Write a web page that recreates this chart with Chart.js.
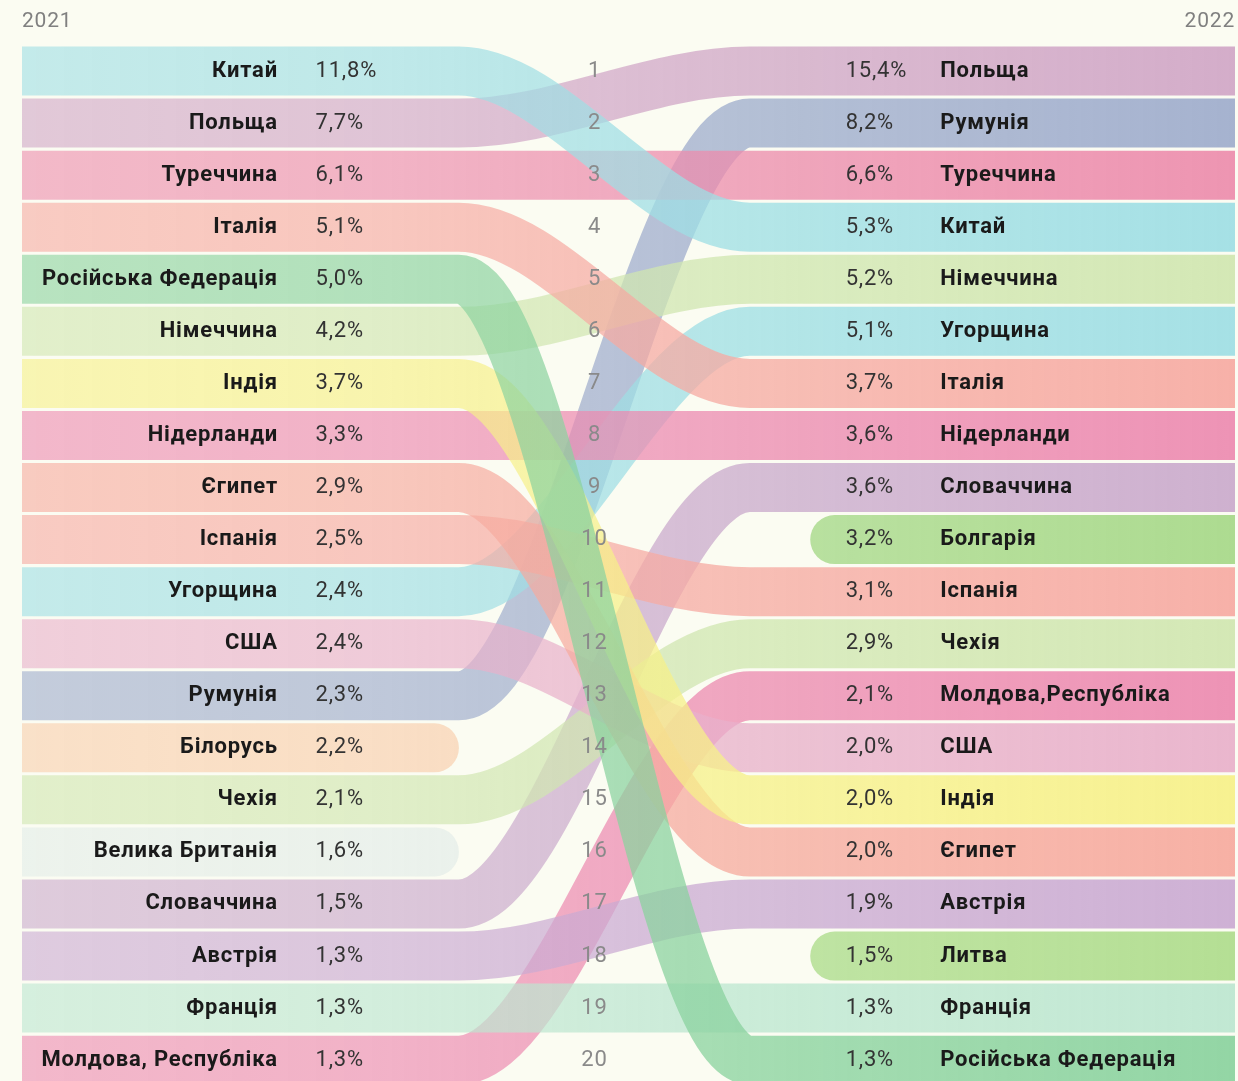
<!DOCTYPE html>
<html>
<head>
<meta charset="utf-8">
<script src="https://cdn.jsdelivr.net/npm/chart.js@4.4.0/dist/chart.umd.min.js"></script>
<style>
  html, body { margin: 0; padding: 0; background: #fbfcf2; }
  canvas { display: block; }
</style>
</head>
<body>
<canvas id="chart" width="1238" height="1081"></canvas>
<script>
const yearLabels = ['2021', '2022'];

const countries2021 = ['Китай', 'Польща', 'Туреччина', 'Італія', 'Російська Федерація', 'Німеччина', 'Індія',
  'Нідерланди', 'Єгипет', 'Іспанія', 'Угорщина', 'США', 'Румунія', 'Білорусь', 'Чехія', 'Велика Британія',
  'Словаччина', 'Австрія', 'Франція', 'Молдова, Республіка'];
const shares2021 = [11.8, 7.7, 6.1, 5.1, 5.0, 4.2, 3.7, 3.3, 2.9, 2.5, 2.4, 2.4, 2.3, 2.2, 2.1, 1.6, 1.5, 1.3, 1.3, 1.3];

const countries2022 = ['Польща', 'Румунія', 'Туреччина', 'Китай', 'Німеччина', 'Угорщина', 'Італія',
  'Нідерланди', 'Словаччина', 'Болгарія', 'Іспанія', 'Чехія', 'Молдова,Республіка', 'США', 'Індія', 'Єгипет',
  'Австрія', 'Литва', 'Франція', 'Російська Федерація'];
const shares2022 = [15.4, 8.2, 6.6, 5.3, 5.2, 5.1, 3.7, 3.6, 3.6, 3.2, 3.1, 2.9, 2.1, 2.0, 2.0, 2.0, 1.9, 1.5, 1.3, 1.3];

// band colours (rgb)
const bandColors = {
  'Китай': [158, 222, 228],
  'Польща': [208, 166, 198],
  'Туреччина': [236, 140, 172],
  'Італія': [246, 170, 162],
  'Російська Федерація': [138, 210, 158],
  'Німеччина': [208, 230, 176],
  'Індія': [246, 240, 136],
  'Нідерланди': [236, 138, 176],
  'Єгипет': [246, 170, 158],
  'Іспанія': [246, 170, 162],
  'Угорщина': [158, 222, 228],
  'США': [232, 176, 202],
  'Румунія': [158, 172, 204],
  'Білорусь': [248, 206, 172],
  'Чехія': [208, 230, 176],
  'Велика Британія': [226, 236, 232],
  'Словаччина': [202, 170, 204],
  'Австрія': [202, 170, 210],
  'Франція': [188, 230, 208],
  'Молдова, Республіка': [236, 138, 176],
  'Болгарія': [166, 216, 136],
  'Литва': [174, 220, 140]
};

const X_TURN_START = 36;   // where the 2021 bands leave their row
const X_TURN_END = 60;     // where they settle into the 2022 row
const X_OLD_END = 34;      // end of bands that only exist in 2021
const X_NEW_START = 67;    // start of bands that only exist in 2022

function key(name) { return name.replace(/,\s*/, ', '); }
function fmt(v) { return v.toFixed(1).replace('.', ',') + '%'; }

function gradientFor(rgb) {
  return function(context) {
    const chart = context.chart;
    const area = chart.chartArea;
    if (!area) return 'rgba(' + rgb.join(',') + ',0.8)';
    const g = chart.ctx.createLinearGradient(area.left, 0, area.right, 0);
    g.addColorStop(0, 'rgba(' + rgb.join(',') + ',0.6)');
    g.addColorStop(0.3, 'rgba(' + rgb.join(',') + ',0.65)');
    g.addColorStop(1, 'rgba(' + rgb.join(',') + ',0.92)');
    return g;
  };
}

const allKeys = [];
countries2021.forEach(c => { if (!allKeys.includes(key(c))) allKeys.push(key(c)); });
countries2022.forEach(c => { if (!allKeys.includes(key(c))) allKeys.push(key(c)); });

const datasets = allKeys.map(k => {
  const r1 = countries2021.findIndex(c => key(c) === k) + 1;
  const r2 = countries2022.findIndex(c => key(c) === k) + 1;
  let data;
  if (r1 && r2) {
    data = [{x: 0, y: r1}, {x: X_TURN_START, y: r1}, {x: X_TURN_END, y: r2}, {x: 100, y: r2}];
  } else if (r1) {
    data = [{x: 0, y: r1}, {x: X_OLD_END, y: r1}];
  } else {
    data = [{x: X_NEW_START, y: r2}, {x: 100, y: r2}];
  }
  return {
    label: k,
    data: data,
    borderColor: gradientFor(bandColors[k]),
    borderWidth: 49,
    borderCapStyle: 'round',
    borderJoinStyle: 'round',
    cubicInterpolationMode: 'monotone',
    pointRadius: 0,
    fill: false,
    clip: 0,
    order: k === 'Російська Федерація' ? -1 : 0
  };
});

const labelsPlugin = {
  id: 'rankLabels',
  afterDatasetsDraw(chart) {
    const ctx = chart.ctx;
    const xs = chart.scales.x;
    const ys = chart.scales.y;
    ctx.save();
    ctx.textBaseline = 'middle';
    ctx.letterSpacing = '0.8px';

    countries2021.forEach((name, i) => {
      const y = ys.getPixelForValue(i + 1);
      ctx.fillStyle = '#1a1a1a';
      ctx.font = 'bold 22px Roboto';
      ctx.textAlign = 'right';
      ctx.fillText(name, xs.getPixelForValue(21.1), y);
      ctx.fillStyle = '#333333';
      ctx.font = '22px Roboto';
      ctx.textAlign = 'left';
      ctx.fillText(fmt(shares2021[i]), xs.getPixelForValue(24.2), y);
      ctx.fillStyle = '#8a8a8a';
      ctx.textAlign = 'center';
      ctx.fillText(String(i + 1), xs.getPixelForValue(47.2), y);
    });

    countries2022.forEach((name, i) => {
      const y = ys.getPixelForValue(i + 1);
      ctx.fillStyle = '#333333';
      ctx.font = '22px Roboto';
      ctx.textAlign = 'left';
      ctx.fillText(fmt(shares2022[i]), xs.getPixelForValue(67.9), y);
      ctx.fillStyle = '#1a1a1a';
      ctx.font = 'bold 22px Roboto';
      ctx.fillText(name, xs.getPixelForValue(75.7), y);
    });

    ctx.fillStyle = '#808080';
    ctx.font = '21px Roboto';
    ctx.textAlign = 'left';
    ctx.fillText(yearLabels[0], xs.getPixelForValue(0), 22);
    ctx.textAlign = 'right';
    ctx.fillText(yearLabels[1], xs.getPixelForValue(100), 22);
    ctx.restore();
  }
};

new Chart(document.getElementById('chart'), {
  type: 'line',
  data: { datasets: datasets },
  options: {
    responsive: false,
    animation: false,
    events: [],
    layout: { padding: { left: 22, right: 3, top: 45, bottom: 0 } },
    plugins: { legend: { display: false }, tooltip: { enabled: false } },
    scales: {
      x: { type: 'linear', min: 0, max: 100, display: false },
      y: { type: 'linear', min: 0.5, max: 20.4, reverse: true, display: false }
    }
  },
  plugins: [labelsPlugin]
});
</script>
</body>
</html>
